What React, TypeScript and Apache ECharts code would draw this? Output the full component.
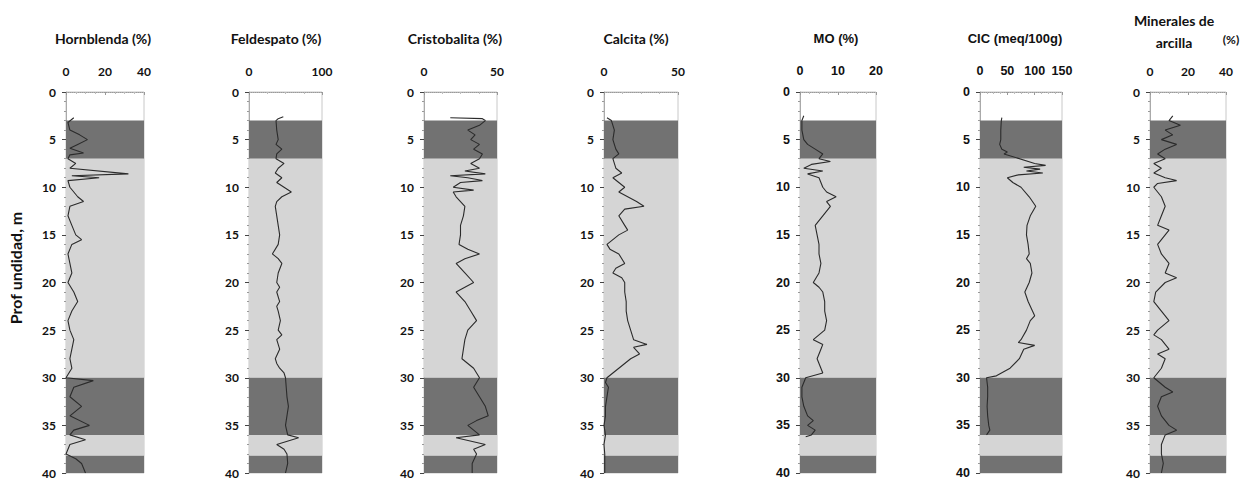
import React, { useEffect, useRef } from "react";
import * as echarts from "echarts";

// [depth (m), value]
const hornblenda: [number, number][] = [
  [2.7, 4], [3.2, 1], [4, 2], [4.5, 7], [5, 11], [5.5, 6], [5.9, 2], [6.4, 9], [6.6, 2], [7, 1], [7.5, 5], [8, 2],
  [8.6, 32], [8.8, 3], [9, 17], [9.3, 1], [10, 2], [11, 6], [11.5, 9], [12, 2], [13, 1], [14, 3], [15, 5], [15.5, 8],
  [16, 3], [17, 1], [18, 2], [19, 3], [20, 1], [21, 4], [22, 6], [23, 3], [24, 1], [25, 2], [26, 4], [27, 3], [28, 2],
  [29, 3], [30, 0], [30.3, 14], [31, 4], [32, 2], [33, 8], [34, 2], [35, 12], [35.5, 4], [36, 2], [36.5, 10], [37, 2],
  [38, 0], [38.5, 5], [39, 8], [40, 10],
];
const feldespato: [number, number][] = [
  [2.6, 47], [2.8, 40], [3, 37], [4, 38], [5, 40], [5.5, 37], [6, 45], [6.5, 38], [7, 37], [7.5, 48], [8, 40], [8.5, 36],
  [9, 45], [9.5, 38], [10, 48], [10.5, 58], [11, 45], [11.5, 38], [12, 36], [13, 38], [14, 40], [15, 42], [16, 40],
  [17, 32], [17.5, 40], [18, 45], [19, 40], [20, 38], [20.5, 42], [21, 38], [22, 42], [22.5, 38], [23, 40], [24, 43],
  [25, 40], [25.5, 45], [26, 38], [27, 42], [28, 36], [28.5, 38], [29, 42], [29.5, 48], [30, 50], [31, 51], [32, 52],
  [33, 54], [34, 52], [35, 50], [36, 53], [36.3, 68], [37, 38], [37.5, 48], [38, 52], [39, 53], [40, 50],
];
const cristobalita: [number, number][] = [
  [2.7, 18], [2.8, 40], [3, 42], [3.5, 38], [4, 30], [4.5, 35], [5, 32], [5.5, 38], [6, 34], [6.5, 40], [7, 38],
  [7.5, 32], [8, 38], [8.3, 28], [8.6, 42], [8.8, 18], [9, 30], [9.3, 40], [9.5, 25], [10, 20], [10.3, 34], [10.5, 20],
  [11, 22], [11.5, 25], [12, 28], [13, 27], [14, 25], [15, 25], [16, 24], [16.5, 30], [17, 38], [17.5, 28], [18, 22],
  [19, 28], [20, 34], [21, 22], [22, 28], [23, 32], [24, 36], [25, 30], [26, 28], [27, 27], [28, 26], [29, 34],
  [30, 38], [31, 34], [32, 38], [33, 42], [34, 44], [34.5, 36], [35, 30], [35.5, 34], [36, 38], [36.3, 22], [37, 42],
  [37.5, 34], [38, 36], [39, 33], [40, 33],
];
const calcita: [number, number][] = [
  [2.7, 2], [3, 5], [4, 7], [5, 6], [6, 8], [6.5, 10], [7, 6], [8, 8], [8.5, 12], [9, 6], [9.5, 10], [10, 14],
  [10.5, 10], [11, 16], [11.5, 22], [12, 27], [12.3, 14], [13, 10], [14, 14], [14.5, 16], [15, 10], [16, 2], [16.5, 4],
  [17, 10], [18, 14], [18.5, 8], [19, 6], [19.5, 12], [20, 14], [21, 14], [22, 15], [23, 15], [24, 16], [25, 18],
  [26, 20], [26.5, 29], [26.8, 20], [27.5, 24], [28, 18], [29, 10], [30, 2], [30.5, 1], [31, 3], [32, 2], [33, 1],
  [34, 1], [35, 0], [36, 1], [37, 0], [38, 0.5], [40, 0.5],
];
const mo: [number, number][] = [
  [2.5, 1], [3, 0.5], [4, 0.5], [5, 1], [5.5, 2], [6, 4], [6.5, 6], [7, 5], [7.3, 8], [7.6, 3], [8, 1], [8.3, 6],
  [8.6, 2], [9, 5], [10, 6], [10.5, 7], [11, 9.5], [11.5, 7], [12, 8], [13, 6], [14, 4], [15, 4.5], [16, 5], [17, 5],
  [18, 5.5], [19, 5], [20, 3.5], [20.5, 5], [21, 6], [22, 6.5], [23, 6.5], [24, 7], [25, 6.5], [25.5, 5], [26, 3.5],
  [26.5, 6], [27, 5.5], [28, 4.5], [29, 5.5], [29.5, 6], [30, 1.5], [31, 0.5], [32, 0.5], [33, 1], [34, 2],
  [34.5, 3.5], [35, 2], [35.5, 4], [36, 3], [36.2, 1.5],
];
const cic: [number, number][] = [
  [2.7, 40], [3, 39], [4, 38], [5, 38], [5.5, 36], [6, 40], [6.3, 50], [6.5, 44], [7.5, 100], [7.7, 120], [7.9, 80],
  [8.1, 110], [8.3, 85], [8.5, 115], [8.7, 70], [9, 50], [9.5, 60], [10, 75], [11, 90], [12, 102], [13, 92], [14, 86],
  [15, 85], [16, 88], [17, 90], [17.5, 85], [18, 92], [19, 95], [20, 90], [21, 82], [22, 88], [23, 96], [23.5, 100],
  [24, 92], [25, 85], [26, 75], [26.3, 70], [26.6, 100], [27, 80], [28, 72], [29, 55], [29.8, 30], [30, 12], [31, 14],
  [32, 14], [33, 13], [34, 14], [35, 16], [35.5, 18], [36, 12],
];
const minerales: [number, number][] = [
  [2.5, 12], [3, 10], [3.5, 16], [4, 8], [4.5, 12], [5, 6], [5.5, 14], [6, 8], [6.5, 4], [7, 8], [7.5, 2], [8, 6],
  [8.5, 2], [9, 8], [9.3, 14], [9.6, 4], [10, 2], [11, 6], [12, 8], [13, 6], [14, 4], [14.5, 10], [15, 8], [16, 4],
  [17, 6], [18, 10], [19, 8], [19.5, 14], [20, 8], [21, 3], [22, 2], [23, 6], [24, 10], [25, 4], [25.5, 2], [26, 6],
  [27, 10], [27.5, 4], [28, 8], [29, 6], [30, 2], [31, 8], [31.5, 12], [32, 6], [33, 4], [34, 6], [35, 10], [35.5, 14],
  [36, 8], [37, 6], [38, 6], [39, 7], [40, 6],
];

// lithology bands [from, to, kind]
const bands: [number, number, string][] = [
  [3, 7, "dark"], [7, 30, "light"], [30, 36, "dark"], [36, 38.2, "light"], [38.2, 40, "dark"],
];

const panelTitles = ["Hornblenda (%)", "Feldespato (%)", "Cristobalita (%)", "Calcita (%)", "MO (%)", "CIC (meq/100g)", "Minerales de\narcilla"];
const xMax = [40, 100, 50, 50, 20, 150, 40];
const xInterval = [20, 100, 50, 50, 10, 50, 20];
const depthTicks = { min: 0, max: 40, interval: 5 };
const yAxisName = "Prof undidad, m";

const panels = [hornblenda, feldespato, cristobalita, calcita, mo, cic, minerales];
const gridLefts = [66, 249, 424, 604, 800, 980, 1150];
const gridWidths = [78, 73, 73, 74, 76, 82, 76];
const titleCenters = [103, 276, 455, 636, 836, 1015, 1176];
const arialPanel = [false, false, false, false, true, true, false];

export default function App() {
  const ref = useRef<HTMLDivElement>(null);
  useEffect(() => {
    if (!ref.current) return;
    const chart = echarts.init(ref.current, undefined, { renderer: "svg" });
    const futura = "Lato";
    const arial = "Liberation Sans";
    const grid = panels.map((_, i) => ({
      left: gridLefts[i], width: gridWidths[i], top: 92, height: 381,
      show: true, borderColor: "#c8c8c8", borderWidth: 1, backgroundColor: "#ffffff",
    }));
    const labelStyle = (i: number) => ({
      show: true, fontSize: arialPanel[i] ? 12.5 : 12, color: "#111",
      fontFamily: arialPanel[i] ? arial : futura, fontWeight: "bold",
    });
    const xAxis = panels.map((_, i) => ({
      type: "value", gridIndex: i, position: "top", min: 0, max: xMax[i], interval: xInterval[i],
      axisLine: { show: true, lineStyle: { color: "#9a9a9a", type: "dotted", width: 1 } },
      axisTick: { show: true, inside: true, length: 3, lineStyle: { color: "#999" } },
      minorTick: { show: true, splitNumber: 4, length: 2, lineStyle: { color: "#bbb" } },
      splitLine: { show: false },
      axisLabel: { ...labelStyle(i), margin: 15 },
    }));
    const yAxis = panels.map((_, i) => ({
      type: "value", gridIndex: i, inverse: true, ...depthTicks,
      axisLine: { show: true, lineStyle: { color: "#aaa" } },
      axisTick: { show: true, length: 4, lineStyle: { color: "#444" } },
      minorTick: { show: true, splitNumber: 5, length: 2, lineStyle: { color: "#999" } },
      splitLine: { show: false },
      axisLabel: { ...labelStyle(i), margin: 10 },
    }));
    const series = panels.map((d, i) => ({
      type: "line", xAxisIndex: i, yAxisIndex: i,
      data: d.map(([depth, v]) => [v, depth]),
      showSymbol: false, symbol: "none",
      lineStyle: { color: "#2b2b2b", width: 1.1 },
      markArea: {
        silent: true,
        data: bands.map(([a, b, k]) => [
          { yAxis: a, itemStyle: { color: k === "dark" ? "#727272" : "#d5d5d5" } },
          { yAxis: b },
        ]),
      },
    }));
    const graphic: any[] = panelTitles.map((t, i) => {
      if (i === 6) {
        return {
          type: "text", x: titleCenters[i] - 2, y: 31,
          style: {
            text: t, textAlign: "center", textVerticalAlign: "middle", fontSize: 14,
            fontWeight: "bold", fontFamily: futura, fill: "#111", lineHeight: 22,
          },
        };
      }
      return {
        type: "text", x: titleCenters[i], y: 38,
        style: {
          text: t, textAlign: "center", textVerticalAlign: "middle", fontSize: arialPanel[i] ? 13 : 14,
          fontWeight: "bold", fontFamily: arialPanel[i] ? arial : futura, fill: "#111",
        },
      };
    });
    graphic.push({
      type: "text", x: 1231, y: 39,
      style: { text: "(%)", textAlign: "center", textVerticalAlign: "middle", fontSize: 12, fontWeight: "bold", fontFamily: futura, fill: "#111" },
    });
    graphic.push({
      type: "text", x: 15, y: 268, rotation: Math.PI / 2,
      style: { text: yAxisName, textAlign: "center", textVerticalAlign: "middle", fontSize: 16, fontWeight: "bold", fontFamily: futura, fill: "#111" },
    });
    chart.setOption({ animation: false, backgroundColor: "#ffffff", grid, xAxis, yAxis, series, graphic });
    return () => chart.dispose();
  }, []);
  return <div ref={ref} style={{ position: "absolute", left: 0, top: 0, width: 1244, height: 480 }} />;
}
